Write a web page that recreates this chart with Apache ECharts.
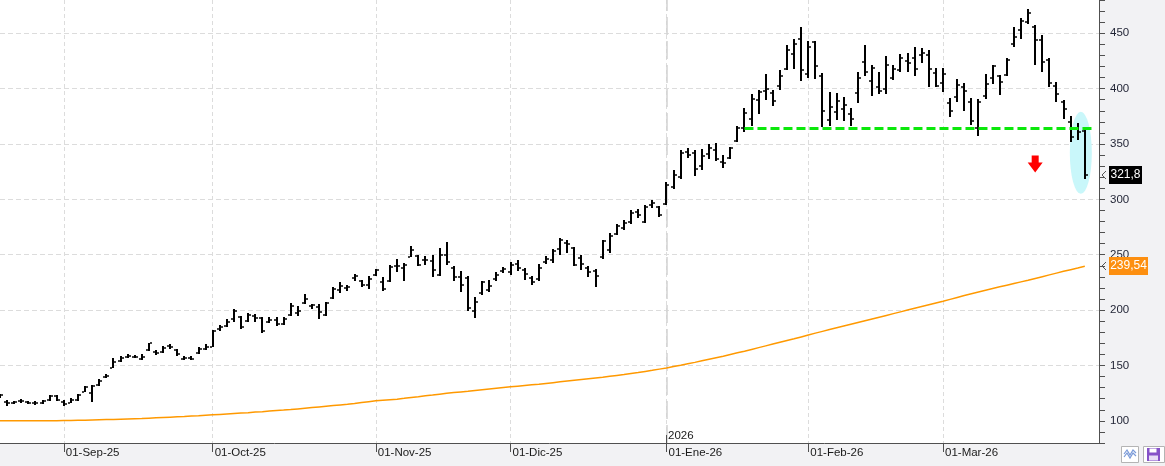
<!DOCTYPE html>
<html>
<head>
<meta charset="utf-8">
<title>OHLC</title>
<script src="https://cdn.jsdelivr.net/npm/echarts@6/dist/echarts.min.js"></script>
<style>
  html, body { margin: 0; padding: 0; background: #fff; }
  #chart { width: 1165px; height: 466px; }
</style>
</head>
<body>
<div id="chart"></div>
<script>
// trading calendar (US market holidays in range)
var START_DATE = '2025-08-19';
var HOLIDAYS = ['2025-09-01', '2025-11-27', '2025-12-25', '2026-01-01', '2026-01-19', '2026-02-16'];
var BAR_COUNT = 154;
var PAD_COUNT = 2;
var MONTHS_ES = ['Ene', 'Feb', 'Mar', 'Abr', 'May', 'Jun', 'Jul', 'Ago', 'Sep', 'Oct', 'Nov', 'Dic'];

var openVals = [
  122, 117, 116.5, 117.5, 117, 116, 116, 119, 122, 117,
  116.5, 119, 126, 125, 132, 140, 148, 154, 157.5, 158,
  156, 164, 162, 162, 168, 164, 156, 157, 161, 165,
  167, 182.5, 186, 192, 194, 190, 195, 193, 189, 191,
  187.5, 196, 197, 206, 204, 203, 196, 211, 218, 220,
  229, 226, 223, 232, 225, 226, 240, 238, 248, 249,
  245, 244, 232, 250, 238, 230, 229, 199, 215, 218,
  228, 235, 234, 242, 236, 229, 228, 243, 245, 255,
  261, 256, 247, 238, 235, 248, 254, 269, 274, 280,
  289, 280, 295, 293, 296, 311, 320, 343, 342, 330,
  341, 345, 334, 337, 353, 364, 373, 390, 398, 396,
  402, 418, 431, 445, 413, 442, 411, 372, 379, 382,
  377, 396, 424, 407, 401, 400, 410, 417, 425, 428,
  430, 430, 414, 405, 387, 392, 401, 388, 364, 393,
  410, 411, 412, 440, 453, 460, 456, 444, 426, 402,
  388, 370, 364, 362
];
var highVals = [
  124, 118.7, 118.1, 119.6, 118.1, 118.1, 118.7, 123.3, 123.3, 118.7,
  120.2, 124.2, 131.7, 132.3, 137.7, 142.3, 156.7, 158.8, 160.4, 159.7,
  160.4, 170.3, 164, 167.9, 169.4, 164.9, 158.8, 158.8, 166.3, 169.4,
  182.2, 186.9, 192, 201, 195, 197.4, 196.6, 193.5, 193.5, 193.5,
  193.5, 206.5, 203.4, 214.7, 205.6, 205.6, 207, 220.6, 225.2, 223,
  232.8, 227.6, 231.2, 237.3, 229.7, 240.3, 246.4, 242.4, 257.5, 250.2,
  249.3, 250.2, 256, 261.5, 239.4, 235.1, 231.2, 212.2, 226.7, 227.3,
  234.2, 238.7, 243.3, 244.8, 238.4, 231.2, 241.8, 248.4, 255.4, 265.3,
  262.9, 256.8, 250.2, 239.4, 237.3, 263.5, 269.5, 277.4, 281.6, 290,
  291, 294.6, 299.1, 293.7, 315.7, 326.5, 345, 346.8, 344.3, 345.9,
  349.9, 350.7, 339.8, 347.3, 366.1, 382.6, 395, 398.5, 412.9, 398.5,
  416.5, 439.8, 445.2, 455.7, 443, 443, 414, 397.2, 396.3, 392,
  382.9, 415.2, 439, 421.1, 414.6, 429.2, 421.1, 431, 432.2, 437.6,
  437, 434.8, 418.3, 418.3, 391.1, 408.4, 405.4, 391.1, 390.2, 413.1,
  421.4, 412.5, 427.9, 455.2, 463.5, 471.7, 457.2, 448.8, 427.9, 406.1,
  389.6, 375.1, 369.1, 363.1
];
var lowVals = [
  121, 113.6, 115.1, 116, 115.1, 114.5, 115.1, 118.1, 117.5, 113.6,
  116, 118.1, 125.6, 116.6, 131.7, 138.6, 147.7, 152.8, 156.7, 156.7,
  155, 163.3, 159.7, 161.3, 164.9, 158.8, 154.9, 154.9, 160.4, 164,
  166.3, 181.4, 184.4, 189, 183, 189, 189, 179, 188, 186,
  186.9, 195, 195, 205.6, 201, 192, 195, 210.1, 215.2, 217.6,
  226.1, 220.6, 219.2, 231.2, 217.6, 225.2, 234.3, 226.7, 247.8, 239.4,
  240.9, 229.7, 231.2, 240.3, 226.7, 216.1, 199.5, 192.9, 213.8, 216.1,
  226.1, 233.3, 231.9, 235.7, 227.6, 223.1, 226.1, 241.8, 242.4, 250.2,
  251.4, 239.4, 236.4, 230.3, 221.3, 246.3, 251.4, 267.4, 271.9, 277.4,
  283.4, 278.6, 292.5, 284, 295.2, 309.3, 318.7, 337.7, 321.1, 326.9,
  336, 334.4, 328.7, 336.8, 352, 360.9, 366.1, 376.8, 390, 384,
  399.1, 416.7, 418.1, 407, 410, 408.3, 365.2, 366.1, 371.5, 370.9,
  366.1, 386.6, 411.8, 393, 395.4, 395.4, 407.5, 415.2, 415.2, 411.2,
  423.1, 401.6, 401.1, 397.2, 374.5, 388.1, 380, 366.9, 357, 390.8,
  404.2, 394.4, 411.3, 437.8, 444.8, 458.1, 421.7, 415.2, 401.1, 388.1,
  372.1, 351.8, 354, 318.7
];
var closeVals = [
  123, 116, 117, 118, 116, 116.5, 117.5, 122.5, 118.5, 115,
  119, 123.5, 131, 131.5, 136, 140.5, 153, 157, 158.5, 158,
  157.5, 170, 161, 166, 167, 160, 156.5, 156, 165, 167,
  181, 185, 189, 199, 185, 196, 193, 181, 191, 187.5,
  192, 204, 199, 210, 204.5, 198, 206, 219, 222, 221,
  231, 223, 228, 236, 219, 239, 240, 241, 254, 241,
  245, 236, 250, 243, 230, 223, 202, 207, 225, 222,
  232, 237, 241, 238, 233, 225, 238, 246, 253, 263,
  260, 241, 242, 234, 231, 262, 267, 276, 279, 288,
  286, 293, 297, 286, 313, 322, 342, 340, 327, 339,
  346, 336, 333, 346, 364, 378, 391, 397, 400, 389,
  411, 435, 440, 417, 438, 420, 380, 383, 389, 385,
  373, 410, 415, 419, 398, 421, 418, 428, 423, 418,
  432, 418, 402, 413, 380, 403, 398, 371, 388, 404,
  420, 406, 426, 447, 461, 468, 444, 424, 405, 395,
  382, 356, 361, 321.8
];
// long moving average (orange)
var maVals = [
  100.0, 100.0, 100.0, 100.0, 100.0, 100.1, 100.1, 100.1, 100.2, 100.3,
  100.4, 100.5, 100.6, 100.8, 101.0, 101.2, 101.3, 101.5, 101.7, 101.9,
  102.1, 102.4, 102.7, 103.0, 103.3, 103.6, 103.9, 104.3, 104.6, 105.0,
  105.4, 105.8, 106.2, 106.6, 107.0, 107.4, 107.9, 108.3, 108.8, 109.3,
  109.7, 110.2, 110.8, 111.4, 112.0, 112.6, 113.2, 113.8, 114.4, 115.0,
  115.7, 116.5, 117.3, 118.1, 118.6, 119.1, 119.6, 120.3, 121.1, 121.8,
  122.6, 123.3, 124.1, 124.9, 125.5, 126.1, 126.7, 127.4, 128.1, 128.8,
  129.5, 130.1, 130.7, 131.3, 131.9, 132.5, 133.1, 133.8, 134.5, 135.2,
  135.9, 136.6, 137.3, 138.0, 138.7, 139.4, 140.2, 141.0, 141.8, 142.7,
  143.6, 144.6, 145.6, 146.7, 147.8, 149.0, 150.2, 151.5, 152.8, 154.2,
  155.6, 157.0, 158.4, 159.9, 161.4, 162.9, 164.5, 166.1, 167.7, 169.3,
  170.9, 172.5, 174.1, 175.8, 177.5, 179.2, 180.8, 182.4, 184.0, 185.6,
  187.2, 188.8, 190.4, 192.0, 193.6, 195.2, 196.8, 198.4, 200.0, 201.6,
  203.2, 204.8, 206.4, 208.0, 209.7, 211.4, 213.1, 214.7, 216.3, 217.9,
  219.5, 221.0, 222.5, 224.0, 225.5, 227.0, 228.6, 230.2, 231.8, 233.4,
  235.0, 236.5, 238.0, 239.54
];
var gridLevels = [150, 200, 250, 300, 350, 400, 450];
var supportLevel = 364;
var supportFrom = 105;
var supportTo = 154;
var arrowAt = [146, 332];
var ellipseAt = [153, 342];
var lastCloseText = '321,8';
var lastMaText = '239,54';

function buildDays(start, total) {
    var out = [];
    var d = new Date(start + 'T00:00:00Z');
    while (out.length < total) {
        var wd = d.getUTCDay();
        var s = d.toISOString().slice(0, 10);
        if (wd !== 0 && wd !== 6 && HOLIDAYS.indexOf(s) < 0) {
            out.push(s);
        }
        d.setUTCDate(d.getUTCDate() + 1);
    }
    return out;
}

var categories = buildDays(START_DATE, BAR_COUNT + PAD_COUNT);
var monthStart = categories.map(function (s, i) {
    return i > 0 && i < BAR_COUNT && s.slice(5, 7) !== categories[i - 1].slice(5, 7);
});
var yearStartIdx = 0;
categories.forEach(function (s, i) {
    if (i > 0 && s.slice(0, 4) !== categories[i - 1].slice(0, 4)) yearStartIdx = i;
});

function isMonthStart(index) {
    return monthStart[index];
}

function monthLabel(value) {
    var m = parseInt(value.slice(5, 7), 10);
    return '01-' + MONTHS_ES[m - 1] + '-' + value.slice(2, 4);
}

var ohlcData = [];
for (var i = 0; i < BAR_COUNT; i++) {
    ohlcData.push([i, openVals[i], highVals[i], lowVals[i], closeVals[i]]);
}

function renderOhlc(params, api) {
    var idx = api.value(0);
    var x = Math.round(api.coord([idx, api.value(1)])[0]);
    var yo = Math.round(api.coord([idx, api.value(1)])[1]);
    var yh = Math.round(api.coord([idx, api.value(2)])[1]);
    var yl = Math.round(api.coord([idx, api.value(3)])[1]);
    var yc = Math.round(api.coord([idx, api.value(4)])[1]);
    var st = { fill: '#000' };
    return {
        type: 'group',
        children: [
            { type: 'rect', shape: { x: x - 1, y: yh, width: 2, height: Math.max(yl - yh, 1) }, style: st },
            { type: 'rect', shape: { x: x - 3, y: yo - 0.75, width: 2, height: 1.5 }, style: st },
            { type: 'rect', shape: { x: x + 1, y: yc - 0.75, width: 2, height: 1.5 }, style: st }
        ]
    };
}

var FONT = 'Liberation Sans';
var AXIS_COLOR = '#505050';

var chart = echarts.init(document.getElementById('chart'));

var option = {
    animation: false,
    backgroundColor: '#f2f2f4',
    grid: { left: 0, right: 66, top: 0, bottom: 23, show: true, backgroundColor: '#ffffff', borderWidth: 0 },
    xAxis: {
        type: 'category',
        data: categories,
        boundaryGap: false,
        axisLine: { lineStyle: { color: AXIS_COLOR, width: 1 } },
        axisTick: { interval: isMonthStart, length: 9, lineStyle: { color: AXIS_COLOR } },
        axisLabel: {
            interval: isMonthStart,
            formatter: monthLabel,
            align: 'left',
            margin: 4,
            padding: [0, 0, 0, 2],
            color: '#1a1a1a',
            fontFamily: FONT,
            fontSize: 11.5
        },
        splitLine: { show: true, interval: isMonthStart, lineStyle: { color: '#dcdcdc', type: [4, 3], width: 1 } }
    },
    yAxis: {
        type: 'value',
        position: 'right',
        min: 80,
        max: 480,
        interval: 10,
        axisLine: { show: true, lineStyle: { color: AXIS_COLOR, width: 1 } },
        axisTick: { show: true, length: 6, lineStyle: { color: AXIS_COLOR } },
        axisLabel: {
            formatter: function (v) { return v % 50 === 0 ? String(v) : ''; },
            margin: 11,
            color: '#1f2233',
            fontFamily: FONT,
            fontSize: 11.5
        },
        splitLine: { show: false }
    },
    series: [
        {
            name: 'grid',
            type: 'line',
            data: [],
            z: 1,
            silent: true,
            markLine: {
                silent: true,
                z: 1,
                symbol: 'none',
                label: { show: false },
                animation: false,
                data: gridLevels.map(function (v) {
                    return { yAxis: v, lineStyle: { color: '#dcdcdc', type: [5, 3], width: 1 } };
                }).concat([
                    { xAxis: categories[yearStartIdx], lineStyle: { color: '#d2d2d2', type: [18, 6], width: 1.5 } }
                ])
            },
            markPoint: {
                silent: true,
                z: 2,
                animation: false,
                label: { show: false },
                data: [{
                    coord: [categories[ellipseAt[0]], ellipseAt[1]],
                    symbol: 'circle',
                    symbolSize: [22, 82],
                    symbolOffset: [-4, 0],
                    itemStyle: { color: '#c9f7fa' }
                }]
            }
        },
        {
            name: 'MA',
            type: 'line',
            data: maVals,
            symbol: 'none',
            z: 3,
            silent: true,
            lineStyle: { color: '#ff9900', width: 1.5 }
        },
        {
            name: 'Precio',
            type: 'custom',
            data: ohlcData,
            encode: { x: 0, y: [1, 2, 3, 4] },
            renderItem: renderOhlc,
            z: 4,
            silent: true,
            markLine: {
                silent: true,
                z: 5,
                symbol: 'none',
                label: { show: false },
                animation: false,
                lineStyle: { color: '#0be80b', width: 3, type: [9, 4] },
                data: [[
                    { coord: [categories[supportFrom], supportLevel] },
                    { coord: [categories[supportTo], supportLevel] }
                ]]
            },
            markPoint: {
                silent: true,
                z: 5,
                animation: false,
                label: { show: false },
                data: [{
                    coord: [categories[arrowAt[0]], arrowAt[1]],
                    symbol: 'path://M4,0 L11,0 L11,7 L15,7 L7.5,17 L0,7 L4,7 Z',
                    symbolSize: [15, 17],
                    itemStyle: { color: '#ff0000' }
                }]
            }
        }
    ]
};

chart.setOption(option);

// overlays placed through the axes' own scales
var gridBottom = chart.getHeight() - 23;
var janX = Math.round(chart.convertToPixel({ xAxisIndex: 0 }, categories[yearStartIdx]));
var yClose = Math.round(chart.convertToPixel({ yAxisIndex: 0 }, closeVals[BAR_COUNT - 1]));
var yMa = Math.round(chart.convertToPixel({ yAxisIndex: 0 }, maVals[BAR_COUNT - 1]));
var axisX = chart.getWidth() - 66;

function priceTag(y, text, fill, w) {
    return [
        { type: 'polyline', shape: { points: [[axisX + 7, y - 4], [axisX + 3, y], [axisX + 7, y + 4]] }, style: { stroke: '#555', lineWidth: 1, fill: null }, z: 100 },
        { type: 'rect', shape: { x: axisX + 10, y: y - 9, width: w, height: 18 }, style: { fill: fill }, z: 100 },
        { type: 'text', x: axisX + 10 + w / 2, y: y, style: { text: text, fill: '#fff', font: '12px ' + FONT, align: 'center', verticalAlign: 'middle' }, z: 101 }
    ];
}

var overlays = [
    { type: 'line', shape: { x1: janX + 0.5, y1: gridBottom - 8, x2: janX + 0.5, y2: gridBottom }, style: { stroke: AXIS_COLOR, lineWidth: 1 }, z: 100 },
    { type: 'text', x: janX + 2, y: gridBottom - 7, style: { text: '2026', fill: '#1a1a1a', font: '11.5px ' + FONT, verticalAlign: 'middle' }, z: 100 },
    // toolbar buttons, bottom right
    { type: 'rect', shape: { x: 1121.5, y: 446.5, width: 17, height: 16 }, style: { fill: '#fff', stroke: '#b4b4b4', lineWidth: 1 }, z: 100 },
    { type: 'polyline', shape: { points: [[1124, 454], [1127, 450], [1130, 455], [1133, 450], [1136, 453]] }, style: { stroke: '#7a9ad8', lineWidth: 1.2, fill: null }, z: 101 },
    { type: 'polyline', shape: { points: [[1124, 457], [1127, 453], [1130, 458], [1133, 453], [1136, 456]] }, style: { stroke: '#7a9ad8', lineWidth: 1.2, fill: null }, z: 101 },
    { type: 'rect', shape: { x: 1143.5, y: 446.5, width: 21, height: 16 }, style: { fill: '#fff', stroke: '#b4b4b4', lineWidth: 1 }, z: 100 },
    { type: 'rect', shape: { x: 1147, y: 448, width: 13, height: 13 }, style: { fill: '#8652c8' }, z: 101 },
    { type: 'rect', shape: { x: 1149.5, y: 448.5, width: 7, height: 4 }, style: { fill: '#fff' }, z: 102 },
    { type: 'rect', shape: { x: 1149, y: 455.5, width: 9, height: 5 }, style: { fill: '#e8ddf6' }, z: 102 }
].concat(priceTag(yClose, lastCloseText, '#000000', 33))
 .concat(priceTag(yMa, lastMaText, '#fd8f10', 39));

chart.setOption({ graphic: { elements: overlays } });
</script>
</body>
</html>
